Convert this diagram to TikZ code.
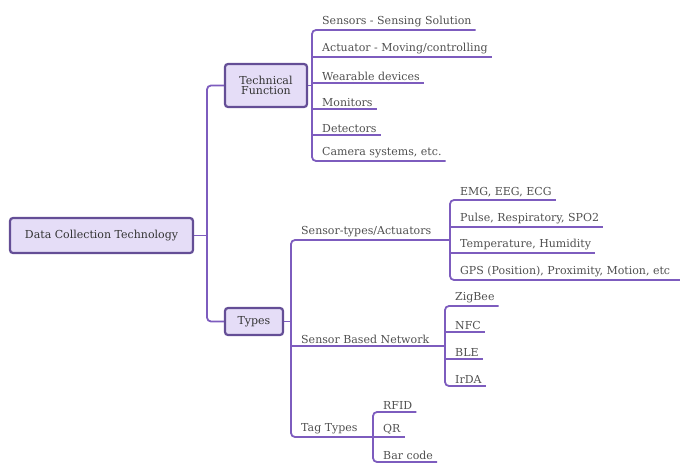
\documentclass[tikz,border=0pt]{standalone}
\usepackage{fontspec}
\setmainfont{DejaVu Serif}
\definecolor{branchpurple}{RGB}{125,92,190}
\definecolor{boxedge}{RGB}{100,78,150}
\definecolor{boxfill}{RGB}{229,221,247}
\definecolor{labelgray}{RGB}{80,80,80}
\begin{document}
\begin{tikzpicture}[x=1pt, y=-1pt,
    topic/.style={draw=boxedge, line width=2.2pt, fill=boxfill, rounded corners=3pt, text=black!80, font=\fontsize{11}{12.5}\selectfont, align=center},
    leaf/.style={anchor=south west, inner xsep=4pt, inner ysep=2.5pt, text=labelgray, font=\fontsize{11}{12.5}\selectfont},
    branch/.style={draw=branchpurple, line width=1.8pt, rounded corners=4pt}]
        \useasboundingbox (0,0) rectangle (680,463);

        % Main topics
        \node[topic, minimum width=183pt, minimum height=35pt] (root) at (101.5,235.5) {Data Collection Technology};
        \node[topic, minimum width=82pt, minimum height=43pt] (tf) at (266,85.5) {Technical\\[-2pt]Function};
        \node[topic, minimum width=58pt, minimum height=27pt] (ty) at (254,321.5) {Types};
        \coordinate (j0) at (207,235.5);
        \draw[branch] (tf.west) -- (207,85.5) -- (207,321.5) -- (ty.west);
        \draw[branch] (root.east) -- (j0);

        % Technical function: leaves on bus x=312
        \node[leaf] (s1) at (318,30) {Sensors - Sensing Solution};
        \node[leaf] (s2) at (318,57) {Actuator - Moving/controlling};
        \node[leaf] (s3) at (318,83) {Wearable devices};
        \node[leaf] (s4) at (318,109) {Monitors};
        \node[leaf] (s5) at (318,135) {Detectors};
        \node[leaf] (s6) at (318,161) {Camera systems, etc.};
        \coordinate (j1) at (312,85.5);
        \draw[branch] (tf.east) -- (j1);
        \draw[branch] (s1.south east) -- (312,30) -- (312,161) -- (s6.south east);
        \draw[branch] (312,57) -- (s2.south east);
        \draw[branch] (312,83) -- (s3.south east);
        \draw[branch] (312,109) -- (s4.south east);
        \draw[branch] (312,135) -- (s5.south east);

        % Types: sub-topics on bus x=291
        \node[leaf] (st) at (297,240) {Sensor-types/Actuators};
        \node[leaf] (sn) at (297,346) {Sensor Based Network};
        \node[leaf] (tt) at (297,437) {Tag Types};
        \coordinate (j2) at (291,321.5);
        \coordinate (b1) at (450,240);
        \coordinate (b2) at (445,346);
        \coordinate (b3) at (373,437);
        \draw[branch] (ty.east) -- (j2);
        \draw[branch] (b1) -- (291,240) -- (291,437) -- (b3);
        \draw[branch] (291,346) -- (b2);

        % Sensor-types leaves
        \node[leaf] (e1) at (456,200) {EMG, EEG, ECG};
        \node[leaf] (e2) at (456,227) {Pulse, Respiratory, SPO2};
        \node[leaf] (e3) at (456,253) {Temperature, Humidity};
        \node[leaf] (e4) at (456,280) {GPS (Position), Proximity, Motion, etc};
        \draw[branch] (e1.south east) -- (450,200) -- (450,280) -- (680,280);
        \draw[branch] (450,227) -- (e2.south east);
        \draw[branch] (450,253) -- (e3.south east);

        % Network leaves
        \node[leaf] (n1) at (451,306) {ZigBee};
        \node[leaf] (n2) at (451,332) {NFC};
        \node[leaf] (n3) at (451,359) {BLE};
        \node[leaf] (n4) at (451,386) {IrDA};
        \draw[branch] (n1.south east) -- (445,306) -- (445,386) -- (n4.south east);
        \draw[branch] (445,332) -- (n2.south east);
        \draw[branch] (445,359) -- (n3.south east);

        % Tag leaves
        \node[leaf] (g1) at (379,412) {RFID};
        \node[leaf] (g2) at (379,437) {QR};
        \node[leaf] (g3) at (379,462) {Bar code};
        \draw[branch] (g1.south east) -- (373,412) -- (373,462) -- (g3.south east);
        \draw[branch] (373,437) -- (g2.south east);
    \end{tikzpicture}
\end{document}
